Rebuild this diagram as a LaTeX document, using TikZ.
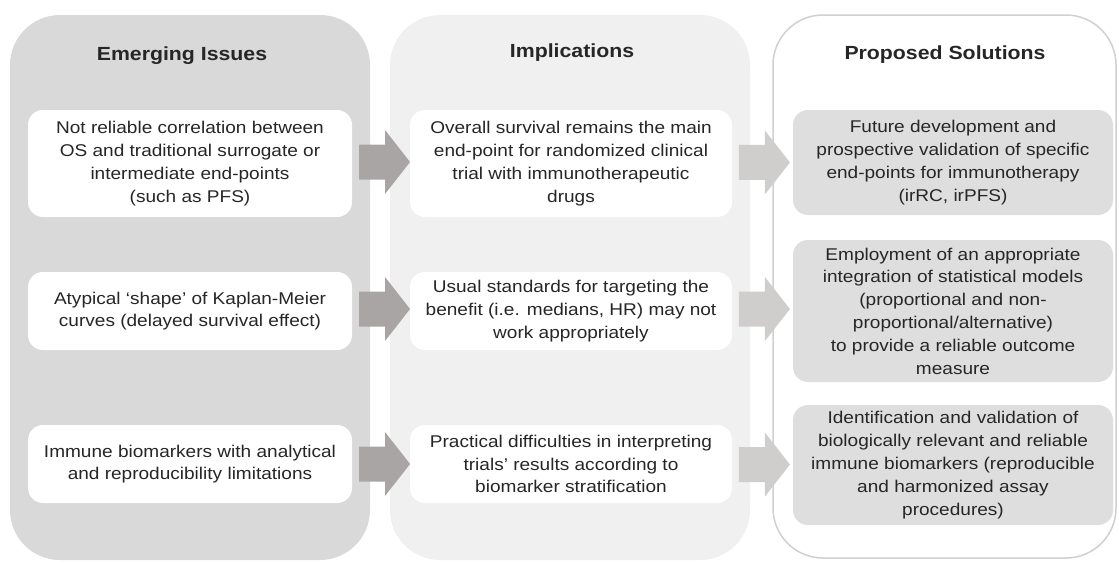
\documentclass[tikz,border=0pt]{standalone}
\usepackage{fontspec}
\setmainfont[FakeStretch=1.12]{Liberation Sans}
\usetikzlibrary{calc}
\definecolor{colA}{HTML}{D9D9D9}
\definecolor{colB}{HTML}{F0F0F0}
\definecolor{boxC}{HTML}{DEDEDE}
\definecolor{bordC}{HTML}{D0D0D0}
\definecolor{arrA}{HTML}{A9A5A5}
\definecolor{arrB}{HTML}{D0CDCD}
\definecolor{txt}{HTML}{262626}
\newcommand\blockarr[2]{\fill[#1, shift={(#2)}] (-26,-17.5) -- (0,-17.5) -- (0,-32) -- (25,0) -- (0,32) -- (0,17.5) -- (-26,17.5) -- cycle;}
\begin{document}
\begin{tikzpicture}[x=1pt,y=-1pt,
  panel/.style={rounded corners=50pt},
  ibox/.style={rounded corners=15pt, inner sep=0pt, align=center, text=txt, font=\fontsize{17}{22.8}\selectfont},
  wbox/.style={ibox, fill=white},
  gbox/.style={ibox, fill=boxC},
  head/.style={font=\fontsize{19}{23}\selectfont\bfseries, text=txt, inner sep=0pt},
  ]
\useasboundingbox (0,0) rectangle (1119,563);
% panels
\fill[panel, colA] (10,15) rectangle (370,560);
\fill[panel, colB] (390,15) rectangle (750,560);
\draw[panel, bordC, line width=1.5pt, fill=white] (773,15) rectangle (1116,558);
% headers
\node[head] (hA) at (182,56) {Emerging Issues};
\node[head] (hB) at (572,53) {Implications};
\node[head] (hC) at (945,55) {Proposed Solutions};
% column 1
\node[wbox, minimum width=324pt, minimum height=107pt] (a1) at (190,163.5)
  {Not reliable correlation between\\OS and traditional surrogate or\\intermediate end-points\\(such as PFS)};
\node[wbox, minimum width=324pt, minimum height=78pt] (a2) at (190,311)
  {Atypical ‘shape’ of Kaplan-Meier\\curves (delayed survival effect)};
\node[wbox, minimum width=324pt, minimum height=78pt] (a3) at (190,464)
  {Immune biomarkers with analytical\\and reproducibility limitations};
% column 2
\node[wbox, minimum width=322pt, minimum height=107pt] (b1) at (571,163.5)
  {Overall survival remains the main\\end-point for randomized clinical\\trial with immunotherapeutic\\drugs};
\node[wbox, minimum width=322pt, minimum height=78pt] (b2) at (571,311)
  {Usual standards for targeting the\\benefit (i.e. medians, HR) may not\\work appropriately};
\node[wbox, minimum width=322pt, minimum height=78pt] (b3) at (571,464)
  {Practical difficulties in interpreting\\trials’ results according to\\biomarker stratification};
% column 3
\node[gbox, minimum width=320pt, minimum height=105pt] (c1) at (953,162.5)
  {Future development and\\prospective validation of specific\\end-points for immunotherapy\\(irRC, irPFS)};
\node[gbox, minimum width=320pt, minimum height=142pt] (c2) at (953,311)
  {Employment of an appropriate\\integration of statistical models\\(proportional and non-\\proportional/alternative)\\to provide a reliable outcome\\measure};
\node[gbox, minimum width=320pt, minimum height=120pt] (c3) at (953,465)
  {Identification and validation of\\biologically relevant and reliable\\immune biomarkers (reproducible\\and harmonized assay\\procedures)};
% arrows
\foreach \r in {1,2,3}{
  \coordinate (mA\r) at ($(a\r.east)!0.57!(b\r.west)$);
  \coordinate (mB\r) at ($(b\r.east)!0.54!(c\r.west)$);
}
\blockarr{arrA}{$(mA1)+(0,-1.5)$}
\blockarr{arrA}{$(mA2)+(0,-2)$}
\blockarr{arrA}{$(mA3)+(0,0)$}
\blockarr{arrB}{$(mB1)+(0,-0.5)$}
\blockarr{arrB}{$(mB2)+(0,-2)$}
\blockarr{arrB}{$(mB3)+(0,0)$}
\end{tikzpicture}
\end{document}
